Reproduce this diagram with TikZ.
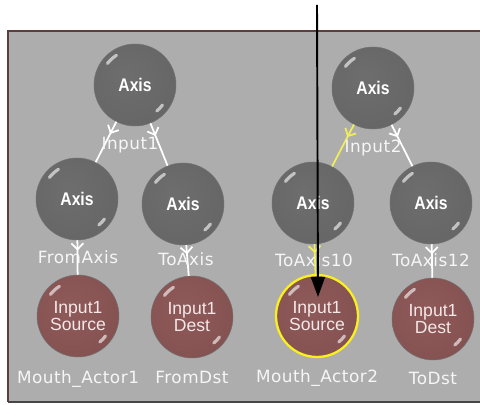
\documentclass[tikz,border=0pt]{standalone}
\usepackage{fontspec}
\setmainfont{Liberation Sans}
\newfontfamily\labelfont[LetterSpace=3]{DejaVu Sans}
\usepackage{graphicx}
\usepackage{xcolor}
\usetikzlibrary{positioning,arrows.meta,decorations.markings}

\definecolor{panelgray}{RGB}{173,173,173}
\definecolor{panelrim}{RGB}{92,62,62}
\definecolor{linkyellow}{RGB}{240,238,90}
\definecolor{ringyellow}{RGB}{250,240,30}
\definecolor{labelwhite}{RGB}{246,246,246}
\definecolor{actortext}{RGB}{245,232,232}

\pgfdeclareradialshading{axisgray}{\pgfpoint{-6bp}{6bp}}{%
  rgb(0bp)=(0.43,0.43,0.43);
  rgb(30bp)=(0.40,0.40,0.40);
  rgb(50bp)=(0.30,0.30,0.30);
  rgb(62bp)=(0.26,0.26,0.26)}
\pgfdeclareradialshading{actorred}{\pgfpoint{-6bp}{6bp}}{%
  rgb(0bp)=(0.56,0.35,0.35);
  rgb(30bp)=(0.52,0.32,0.32);
  rgb(50bp)=(0.38,0.22,0.22);
  rgb(62bp)=(0.33,0.19,0.19)}

\newcommand{\narrowtext}[1]{\scalebox{0.86}[1]{#1}}

\begin{document}
\begin{tikzpicture}[
    x=0.02cm, y=-0.02cm,
    axisball/.style={
        circle,
        shade,
        shading=axisgray,
        draw=black!55,
        line width=0.3pt,
        minimum size=1.64cm,
        inner sep=0pt,
        text=white,
        font=\fontsize{10.4}{11}\selectfont\bfseries
    },
    actorball/.style={
        circle,
        shade,
        shading=actorred,
        draw=black!55,
        line width=0.3pt,
        minimum size=1.64cm,
        inner sep=0pt,
        align=center,
        text=actortext,
        font=\fontsize{10}{9.6}\selectfont
    },
    tag/.style={
        text=labelwhite,
        anchor=base,
        inner sep=0pt,
        font=\labelfont\fontsize{9.6}{10}\selectfont
    },
    link/.style={
        white,
        line width=1pt,
        postaction={decorate},
        decoration={markings,
            mark=at position 0.3 with {\arrow{Straight Barb[length=1.2mm,width=2.4mm]}}}
    },
    hot/.style={linkyellow},
    shine/.style={white, opacity=0.6, line width=1.8pt, line cap=round},
    pointer/.style={-{Triangle[width=0.28cm,length=0.4cm]}, line width=1.1pt, black}
]
\useasboundingbox (0,0) rectangle (480,405);

% panel
\fill[panelgray] (8,31) rectangle (482,402);
\draw[panelrim, line width=0.8pt] (482,31) -- (8,31) -- (8,402);
\draw[gray!55!black, line width=0.6pt] (8,402) -- (482,402);

% top row
\node[axisball] (top1) at (135,85) {\narrowtext{Axis}};
\node[axisball] (top2) at (373,88) {\narrowtext{Axis}};

% middle row
\node[axisball] (fax) at (77,199) {\narrowtext{Axis}};
\node[axisball] (tax) at (183,204) {\narrowtext{Axis}};
\node[axisball] (tax10) at (313,203) {\narrowtext{Axis}};
\node[axisball] (tax12) at (431,203) {\narrowtext{Axis}};

% bottom row
\node[actorball] (ma1) at (78,316) {Input1\\Source};
\node[actorball] (fdst) at (192,317) {Input1\\Dest};
\node[actorball, draw=ringyellow, line width=1.3pt] (ma2) at (317,316) {Input1\\Source};
\node[actorball] (tdst) at (433,319) {Input1\\Dest};

% links
\draw[link] (top1) -- (fax);
\draw[link] (top1) -- (tax);
\draw[link, hot] (top2) -- (tax10);
\draw[link] (top2) -- (tax12);
\draw[link] (fax) -- (ma1);
\draw[link] (tax) -- (fdst);
\draw[link, hot] (tax10) -- (ma2);
\draw[link] (tax12) -- (tdst);

% labels
\node[tag] (in1) at (130,150) {Input1};
\node[tag] (in2) at (373,153) {Input2};
\node[tag] (lfax) at (78,263) {FromAxis};
\node[tag] (ltax) at (186,266) {ToAxis};
\node[tag] (ltax10) at (314,267) {ToAxis10};
\node[tag] (ltax12) at (431,267) {ToAxis12};
\node[tag] (lma1) at (78,383) {Mouth\_Actor1};
\node[tag] (lfdst) at (192,383) {FromDst};
\node[tag] (lma2) at (317,382) {Mouth\_Actor2};
\node[tag] (ltdst) at (433,384) {ToDst};

% highlights
\foreach \b in {top1,top2,fax,tax,tax10,tax12,ma1,fdst,ma2,tdst} {
    \draw[shine] (\b.center) ++(122:0.7cm) arc[start angle=122, end angle=142, radius=0.7cm];
    \draw[shine] (\b.center) ++(-36:0.68cm) arc[start angle=-36, end angle=-50, radius=0.68cm];
}

% pointer
\coordinate (probe) at (317,5);
\coordinate (drop) at (318,297);
\draw[pointer] (probe) -- (drop);

\end{tikzpicture}
\end{document}
